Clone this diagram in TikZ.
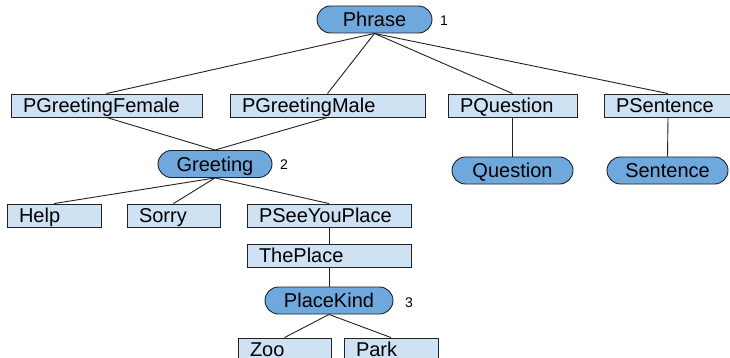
\documentclass[tikz,border=0pt]{standalone}
\usepackage{fontspec}
\setmainfont{Liberation Sans}
\definecolor{boxfill}{HTML}{CFE2F3}
\definecolor{pillfill}{HTML}{6FA8DC}
\definecolor{edge}{HTML}{222222}
\tikzset{
  base/.style={draw=edge, line width=0.9pt, inner ysep=0pt, text height=14.3pt, text depth=0pt,
    font=\fontsize{20}{24}\selectfont},
  box/.style={base, fill=boxfill, rectangle, minimum height=23pt, inner xsep=12pt, align=left},
  pill/.style={base, fill=pillfill, rounded corners=13.5pt, minimum height=27pt, inner xsep=0pt},
  num/.style={inner sep=0pt, text height=10pt, text depth=0pt, font=\fontsize{14}{16}\selectfont},
  conn/.style={draw=edge, line width=0.9pt}
}
\begin{document}
\begin{tikzpicture}[x=1pt,y=-1pt]
\clip (0,0) rectangle (730,358);
\fill[white] (0,0) rectangle (730,358);
% nodes
\node[pill, minimum width=115pt] (phrase) at (374.5,19.5) {Phrase};
\node[num] (n1) at (444,21) {1};
\node[box, text width=167pt] (pgf) at (106.5,105.5) {PGreetingFemale};
\node[box, text width=171pt] (pgm) at (327.5,105.5) {PGreetingMale};
\node[box, text width=105pt] (pq) at (512.5,105.5) {PQuestion};
\node[box, text width=104pt] (ps) at (668,105.5) {PSentence};
\node[pill, minimum width=121pt] (question) at (512.5,170.5) {Question};
\node[pill, minimum width=121pt] (sentence) at (667.5,170.5) {Sentence};
\node[pill, minimum width=114pt] (greeting) at (215,164) {Greeting};
\node[num] (n2) at (284,164.5) {2};
\node[box, text width=70pt] (help) at (54,215.5) {Help};
\node[box, text width=69pt] (sorry) at (173.5,215.5) {Sorry};
\node[box, text width=140pt] (psyp) at (329,215.5) {PSeeYouPlace};
\node[box, text width=140pt] (theplace) at (329,255.5) {ThePlace};
\node[pill, minimum width=128pt] (placekind) at (329,300.5) {PlaceKind};
\node[num] (n3) at (409,302.5) {3};
\node[box, text width=69pt] (zoo) at (284.5,349.5) {Zoo};
\node[box, text width=70pt] (park) at (391,349.5) {Park};
% connectors
\draw[conn] (phrase.south) -- (pgf.north);
\draw[conn] (phrase.south) -- (pgm.north);
\draw[conn] (phrase.south) -- (pq.north);
\draw[conn] (phrase.south) -- (ps.north);
\draw[conn] (pq.south) -- (question.north);
\draw[conn] (ps.south) -- (sentence.north);
\draw[conn] (pgf.south) -- (greeting.north);
\draw[conn] (pgm.south) -- (greeting.north);
\draw[conn] (greeting.south) -- (help.north);
\draw[conn] (greeting.south) -- (sorry.north);
\draw[conn] (greeting.south) -- (psyp.north);
\draw[conn] (psyp.south) -- (theplace.north);
\draw[conn] (theplace.south) -- (placekind.north);
\draw[conn] (placekind.south) -- (zoo.north);
\draw[conn] (placekind.south) -- (park.north);
\end{tikzpicture}
\end{document}
